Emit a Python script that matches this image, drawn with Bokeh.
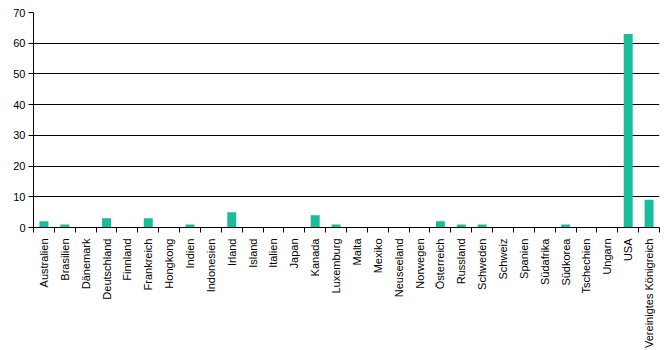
import numpy as np
from bokeh.plotting import figure
from bokeh.models import FixedTicker, Range1d
from bokeh.embed import file_html
from bokeh.resources import INLINE

countries = ["Australien", "Brasilien", "Dänemark", "Deutschland", "Finnland", "Frankreich",
             "Hongkong", "Indien", "Indonesien", "Irland", "Island", "Italien", "Japan",
             "Kanada", "Luxemburg", "Malta", "Mexiko", "Neuseeland", "Norwegen", "Österreich",
             "Russland", "Schweden", "Schweiz", "Spanien", "Südafrika", "Südkorea",
             "Tschechien", "Ungarn", "USA", "Vereinigtes Königreich"]
values = [2, 1, 0, 3, 0, 3, 0, 1, 0, 5, 0, 0, 0, 4, 1, 0, 0, 0, 0, 2,
          1, 1, 0, 0, 0, 1, 0, 0, 63, 9]
y_ticks = [0, 10, 20, 30, 40, 50, 60, 70]

n = len(countries)
centers = [i + 0.5 for i in range(n)]
bounds = list(range(n + 1))

p = figure(width=670, height=350, output_backend="svg", toolbar_location=None,
           x_range=Range1d(0, n), y_range=Range1d(0, 70),
           min_border_left=33, min_border_right=11, min_border_top=12, min_border_bottom=121)
p.outline_line_color = None
p.background_fill_color = "white"
p.border_fill_color = "white"

p.vbar(x=centers, top=values, width=0.43, bottom=0, fill_color="#1BBC9B", line_color=None)

font = "Liberation Sans"
# x axis
p.xaxis.ticker = FixedTicker(ticks=centers, minor_ticks=bounds)
p.xaxis.major_label_overrides = {c: name for c, name in zip(centers, countries)}
p.xaxis.major_label_orientation = np.pi / 2
p.xaxis.major_tick_out = 0
p.xaxis.major_tick_in = 0
p.xaxis.minor_tick_out = 5
p.xaxis.minor_tick_in = 0
p.xaxis.minor_tick_line_color = "black"
p.xaxis.axis_line_color = "black"
p.xaxis.major_label_standoff = 6
p.xaxis.major_label_text_font = font
p.xaxis.major_label_text_font_size = "11px"
p.xaxis.major_label_text_color = "black"
p.xgrid.visible = False

# y axis
p.yaxis.ticker = FixedTicker(ticks=y_ticks)
p.yaxis.major_tick_out = 5
p.yaxis.major_tick_in = 0
p.yaxis.minor_tick_line_color = None
p.yaxis.major_tick_line_color = "black"
p.yaxis.axis_line_color = "black"
p.yaxis.major_label_standoff = 3
p.yaxis.major_label_text_font = font
p.yaxis.major_label_text_font_size = "11px"
p.yaxis.major_label_text_color = "black"
p.ygrid.grid_line_color = "black"
p.ygrid.grid_line_width = 1

open("out.html", "w").write(file_html(p, INLINE))
